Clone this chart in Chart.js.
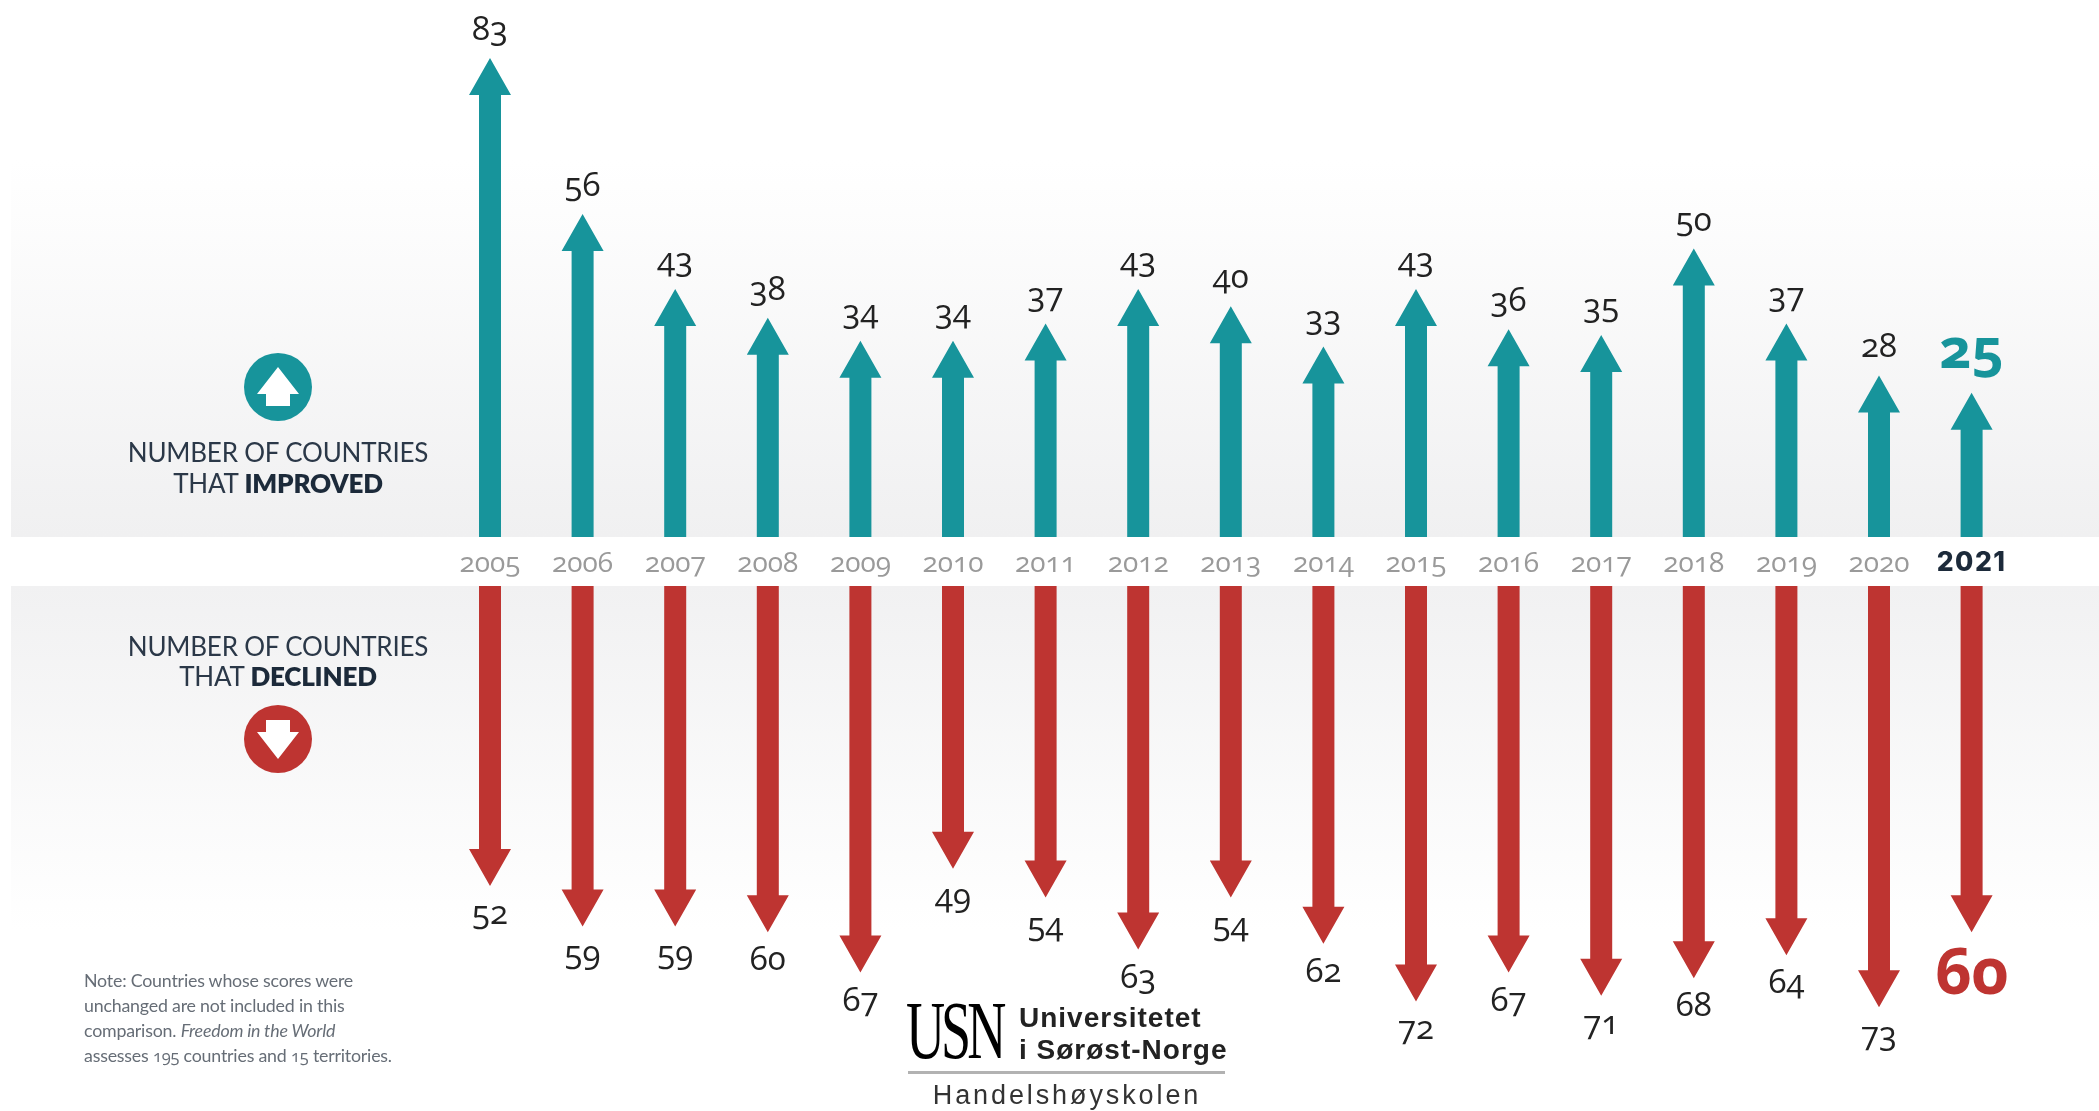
<!DOCTYPE html>
<html>
<head>
<meta charset="utf-8">
<script src="https://cdn.jsdelivr.net/npm/chart.js@4"></script>
<style>
  body { margin: 0; background: #fff; }
  #wrap { position: relative; width: 2099px; height: 1111px; overflow: hidden; }
  #wrap div { position: absolute; white-space: nowrap; }
  .val { font: 400 33px "Open Sans"; color: #222; font-feature-settings: "onum"; transform: translateX(-50%); line-height: 40px; }
  .year { font: 400 28px "Open Sans"; color: #9a9a9a; font-feature-settings: "onum"; transform: translateX(-50%); line-height: 30px; }
  .cap { font: 400 26px Lato; color: #2b3848; letter-spacing: -0.2px; transform: translateX(-50%); line-height: 30px; }
  .cap b { font-weight: 800; color: #1c2a3a; }
  .note { font: 400 17.8px Lato; color: #666d76; left: 84px; line-height: 25px; letter-spacing: -0.2px; }
  .note span { font-family: "Open Sans"; font-size: 16.5px; font-feature-settings: "onum"; }
</style>
</head>
<body>
<div id="wrap">
  <canvas id="freedomChart" width="2099" height="1111"></canvas>
  <div class="cap" style="left:278px;top:437px">NUMBER OF COUNTRIES</div>
  <div class="cap" style="left:278px;top:468px">THAT <b>IMPROVED</b></div>
  <div class="cap" style="left:278px;top:631px">NUMBER OF COUNTRIES</div>
  <div class="cap" style="left:278px;top:661px">THAT <b>DECLINED</b></div>
  <div class="note" style="top:968px">Note: Countries whose scores were</div>
  <div class="note" style="top:993px">unchanged are not included in this</div>
  <div class="note" style="top:1018px">comparison. <i>Freedom in the World</i></div>
  <div class="note" style="top:1043px">assesses <span>195</span> countries and <span>15</span> territories.</div>
  <div style="left:906px;top:984px;font:400 82px 'Liberation Serif';letter-spacing:-6px;color:#000;transform:scaleX(.66);transform-origin:left top">USN</div>
  <div style="left:1019px;top:1002px;font:700 28px 'Liberation Sans';letter-spacing:1px;color:#222">Universitetet</div>
  <div style="left:1019px;top:1034px;font:700 28px 'Liberation Sans';letter-spacing:1px;color:#222">i Sørøst-Norge</div>
  <div style="left:908px;top:1071px;width:317px;height:3px;background:#b2b2b2"></div>
  <div style="left:1067px;top:1080px;transform:translateX(-50%);font:400 27px 'Liberation Sans';letter-spacing:2.9px;color:#333">Handelshøyskolen</div>
</div>
<script>
const years = ['2005','2006','2007','2008','2009','2010','2011','2012','2013','2014','2015','2016','2017','2018','2019','2020','2021'];
const improved = [83,56,43,38,34,34,37,43,40,33,43,36,35,50,37,28,25];
const declined = [52,59,59,60,67,49,54,63,54,62,72,67,71,68,64,73,60];

const TEAL = '#17949b';
const RED = '#be3431';
const PX_PER_COUNTRY = 5.77;
const UP_ZERO = 537;    // y of the improved baseline
const DOWN_ZERO = 586;  // y of the declined baseline
const H = 1111;

function drawArrow(ctx, x, tip, base, color) {
  const dir = tip < base ? 1 : -1;
  const neck = tip + dir * 37;
  ctx.fillStyle = color;
  ctx.beginPath();
  ctx.moveTo(x - 11, base);
  ctx.lineTo(x - 11, neck);
  ctx.lineTo(x - 21, neck);
  ctx.lineTo(x, tip);
  ctx.lineTo(x + 21, neck);
  ctx.lineTo(x + 11, neck);
  ctx.lineTo(x + 11, base);
  ctx.closePath();
  ctx.fill();
}

function drawBadge(ctx, cx, cy, color, dir) {
  ctx.fillStyle = color;
  ctx.beginPath();
  ctx.arc(cx, cy, 34, 0, Math.PI * 2);
  ctx.fill();
  // white house shaped arrow
  const t = cy - dir * 20, n = cy + dir * 7, b = cy + dir * 19;
  ctx.fillStyle = '#fff';
  ctx.beginPath();
  ctx.moveTo(cx, t);
  ctx.lineTo(cx + 21, n);
  ctx.lineTo(cx + 12, n);
  ctx.lineTo(cx + 12, b);
  ctx.lineTo(cx - 12, b);
  ctx.lineTo(cx - 12, n);
  ctx.lineTo(cx - 21, n);
  ctx.closePath();
  ctx.fill();
}

const backdrop = {
  id: 'backdrop',
  beforeDraw(chart) {
    const ctx = chart.ctx;
    let g = ctx.createLinearGradient(0, 160, 0, UP_ZERO);
    g.addColorStop(0, '#ffffff');
    g.addColorStop(1, '#f0f0f1');
    ctx.fillStyle = g;
    ctx.fillRect(11, 160, 2088, UP_ZERO - 160);
    g = ctx.createLinearGradient(0, DOWN_ZERO, 0, 930);
    g.addColorStop(0, '#f1f1f2');
    g.addColorStop(1, '#ffffff');
    ctx.fillStyle = g;
    ctx.fillRect(11, DOWN_ZERO, 2088, 930 - DOWN_ZERO);
    drawBadge(ctx, 278, 387, TEAL, 1);
    drawBadge(ctx, 278, 739, RED, -1);
  }
};

const arrows = {
  id: 'arrows',
  beforeDatasetDraw(chart, args) {
    const color = args.meta.controller.getDataset().backgroundColor;
    args.meta.data.forEach(bar => drawArrow(chart.ctx, bar.x, bar.y, bar.base, color));
    return false;
  }
};

const chart = new Chart(document.getElementById('freedomChart'), {
  type: 'bar',
  data: {
    labels: years,
    datasets: [
      { label: 'Improved', data: improved, backgroundColor: TEAL, yAxisID: 'yUp' },
      { label: 'Declined', data: declined, backgroundColor: RED, yAxisID: 'yDown' }
    ]
  },
  options: {
    responsive: false,
    animation: false,
    grouped: false,
    barThickness: 22,
    layout: { padding: { left: 443.7, right: 81.1, top: 0, bottom: 0 } },
    plugins: { legend: { display: false }, tooltip: { enabled: false } },
    scales: {
      x: { display: false },
      yUp: { display: false, min: (UP_ZERO - H) / PX_PER_COUNTRY, max: UP_ZERO / PX_PER_COUNTRY },
      yDown: { display: false, reverse: true, min: -DOWN_ZERO / PX_PER_COUNTRY, max: (H - DOWN_ZERO) / PX_PER_COUNTRY }
    }
  },
  plugins: [backdrop, arrows]
});

// value and year labels sit on top as html so they can use old style figures
const wrap = document.getElementById('wrap');
function addLabel(cls, text, x, top, style) {
  const el = document.createElement('div');
  el.className = cls;
  el.textContent = text;
  el.style.left = x + 'px';
  el.style.top = top + 'px';
  if (style) Object.assign(el.style, style);
  wrap.appendChild(el);
}
const upBars = chart.getDatasetMeta(0).data;
const downBars = chart.getDatasetMeta(1).data;
years.forEach((year, i) => {
  const last = i === years.length - 1;
  const x = upBars[i].x;
  addLabel('year', year, x, 546, last ? { fontWeight: 800, color: '#1c2a3a', fontFeatureSettings: 'normal', fontFamily: 'Inter', fontSize: '26.5px', letterSpacing: '1.5px' } : null);
  if (last) {
    addLabel('val', improved[i], x, upBars[i].y - 77, { font: '700 56px "Open Sans"', fontFeatureSettings: '"onum"', color: TEAL, lineHeight: '60px' });
    addLabel('val', declined[i], x, downBars[i].y + 8, { font: '700 64px "Open Sans"', fontFeatureSettings: '"onum"', color: RED, lineHeight: '60px' });
  } else {
    addLabel('val', improved[i], x, upBars[i].y - 50);
    addLabel('val', declined[i], x, downBars[i].y + 6);
  }
});
</script>
</body>
</html>
